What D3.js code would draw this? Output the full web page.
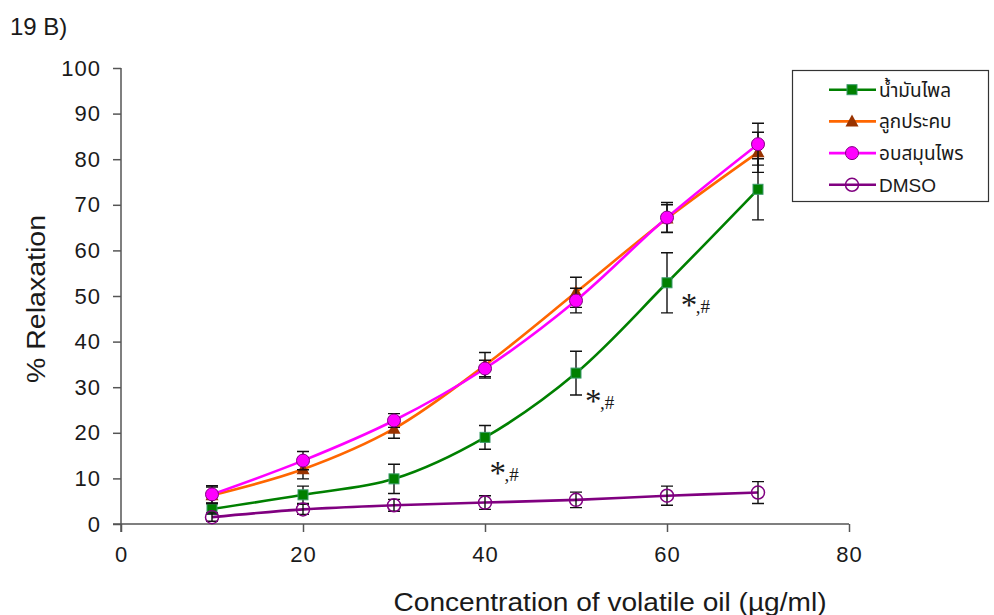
<!DOCTYPE html>
<html>
<head>
<meta charset="utf-8">
<script src="https://cdnjs.cloudflare.com/ajax/libs/d3/7.8.5/d3.min.js"></script>
<style>
  html, body { margin: 0; padding: 0; background: #fff; }
  svg { display: block; }
  text { font-family: "Liberation Sans", Arial, Helvetica, sans-serif; fill: #1a1a1a; }
  .thai { font-family: "Noto Sans Thai", "Noto Sans", "Liberation Sans", sans-serif; }
  .serif { font-family: "Liberation Serif", "Times New Roman", serif; }
</style>
</head>
<body>
<svg id="chart" width="994" height="615"></svg>
<script>
// ---- data ----
const concentrations = [10, 20, 30, 40, 50, 60, 70];
const xTicks = [0, 20, 40, 60, 80];
const yTicks = [0, 10, 20, 30, 40, 50, 60, 70, 80, 90, 100];

const seriesNames = ["น้ำมันไพล", "ลูกประคบ", "อบสมุนไพร", "DMSO"];
const plaiMean  = [3.3, 6.4, 9.9, 19.0, 33.1, 52.9, 73.4];
const plaiErr   = [1.2, 1.9, 3.2, 2.6, 4.8, 6.6, 6.7];
const lukMean   = [6.3, 12.0, 20.9, 34.8, 50.8, 67.0, 81.5];
const lukErr    = [1.8, 2.1, 2.1, 2.8, 3.3, 3.0, 4.4];
const obMean    = [6.5, 13.9, 22.7, 34.1, 49.0, 67.2, 83.3];
const obErr     = [1.9, 2.0, 1.5, 1.8, 2.7, 3.3, 4.6];
const dmsoMean  = [1.5, 3.2, 4.1, 4.7, 5.3, 6.2, 6.9];
const dmsoErr   = [0.9, 1.1, 1.3, 1.5, 1.7, 2.1, 2.4];

// significance annotations (data units, anchored near the น้ำมันไพล points)
const annotX = [40.5, 51.0, 61.5];
const annotY = [9.4, 25.3, 46.3];

// ---- styles ----
const styles = [
  {line: "#008000", marker: "square",   fill: "#008000", stroke: "#3a9a6a"},
  {line: "#FF6600", marker: "triangle", fill: "#993300", stroke: "none"},
  {line: "#FF00FF", marker: "circle",   fill: "#FF00FF", stroke: "#800080"},
  {line: "#800080", marker: "open",     fill: "none",    stroke: "#800080"}
];
const means = [plaiMean, lukMean, obMean, dmsoMean];
const errs = [plaiErr, lukErr, obErr, dmsoErr];

const svg = d3.select("#chart");
const x = d3.scaleLinear().domain([0, 80]).range([121, 849]);
const y = d3.scaleLinear().domain([0, 100]).range([524, 68]);

// title
svg.append("text").attr("x", 10).attr("y", 35).attr("font-size", 24).attr("fill", "#333").text("19 B)");

// axes
const axisColor = "#555";
const yAxis = svg.append("g").attr("transform", `translate(${x(0)},0)`)
  .call(d3.axisLeft(y).tickValues(yTicks).tickSize(8).tickSizeOuter(0).tickPadding(12));
yAxis.select(".domain").attr("stroke", axisColor).attr("stroke-width", 1.5)
  .attr("d", `M0,${y(100)}V${y(0) + 8}`);
yAxis.selectAll(".tick line").attr("stroke", axisColor).attr("stroke-width", 1.5);
yAxis.selectAll(".tick text").attr("font-size", 22).attr("fill", "#1a1a1a")
  .attr("font-family", "Liberation Sans, Arial, sans-serif").attr("letter-spacing", 1);

const xAxis = svg.append("g").attr("transform", `translate(0,${y(0)})`)
  .call(d3.axisBottom(x).tickValues(xTicks).tickSize(8).tickSizeOuter(0).tickPadding(14));
xAxis.select(".domain").attr("stroke", axisColor).attr("stroke-width", 1.5)
  .attr("d", `M${x(0) - 8},0H${x(80)}`);
xAxis.selectAll(".tick line").attr("stroke", axisColor).attr("stroke-width", 1.5);
xAxis.selectAll(".tick text").attr("font-size", 22).attr("fill", "#1a1a1a")
  .attr("font-family", "Liberation Sans, Arial, sans-serif").attr("letter-spacing", 1);

// axis titles
svg.append("text").attr("x", 610).attr("y", 611).attr("text-anchor", "middle")
  .attr("font-size", 25).attr("fill", "#333").attr("textLength", 433).attr("lengthAdjust", "spacingAndGlyphs")
  .text("Concentration of volatile oil (µg/ml)");
svg.append("text").attr("transform", `translate(45,${(215 + 383) / 2}) rotate(-90)`)
  .attr("text-anchor", "middle").attr("font-size", 25).attr("fill", "#333")
  .attr("textLength", 168).attr("lengthAdjust", "spacingAndGlyphs")
  .text("% Relaxation");

// marker drawing
function drawMarker(g, type, cx, cy, st) {
  if (type === "square") {
    g.append("rect").attr("x", cx - 5).attr("y", cy - 5).attr("width", 10).attr("height", 10)
      .attr("fill", st.fill).attr("stroke", st.stroke).attr("stroke-width", 1);
  } else if (type === "triangle") {
    g.append("path").attr("d", `M${cx},${cy - 7}L${cx + 6.5},${cy + 5}L${cx - 6.5},${cy + 5}Z`)
      .attr("fill", st.fill);
  } else if (type === "circle") {
    g.append("circle").attr("cx", cx).attr("cy", cy).attr("r", 6.5)
      .attr("fill", st.fill).attr("stroke", st.stroke).attr("stroke-width", 1);
  } else {
    g.append("circle").attr("cx", cx).attr("cy", cy).attr("r", 6.5)
      .attr("fill", "none").attr("stroke", st.stroke).attr("stroke-width", 1.5);
  }
}

const lineGen = d3.line().curve(d3.curveCatmullRom.alpha(0.5))
  .x(d => x(d[0])).y(d => y(d[1]));

means.forEach((m, si) => {
  const st = styles[si];
  const g = svg.append("g");
  const pts = concentrations.map((c, i) => [c, m[i], errs[si][i]]);
  g.append("path").attr("d", lineGen(pts)).attr("fill", "none")
    .attr("stroke", st.line).attr("stroke-width", 2.6);
  pts.forEach(p => {
    const cx = x(p[0]), y1 = y(p[1] + p[2]), y2 = y(p[1] - p[2]);
    g.append("path").attr("d", `M${cx},${y1}V${y2}M${cx - 6},${y1}H${cx + 6}M${cx - 6},${y2}H${cx + 6}`)
      .attr("stroke", "#111").attr("stroke-width", 1.4).attr("fill", "none");
  });
  pts.forEach(p => drawMarker(g, st.marker, x(p[0]), y(p[1]), st));
});

// annotations
annotX.forEach((ax, i) => {
  svg.append("text").attr("class", "serif").attr("x", x(ax)).attr("y", y(annotY[i]) + 3)
    .attr("font-size", 33).text("*");
  svg.append("text").attr("class", "serif").attr("x", x(ax) + 15).attr("y", y(annotY[i]))
    .attr("font-size", 19).text(",#");
});

// legend
const lg = svg.append("g");
lg.append("rect").attr("x", 792.5).attr("y", 70.5).attr("width", 196).attr("height", 131)
  .attr("fill", "#fff").attr("stroke", "#333").attr("stroke-width", 1.2);
seriesNames.forEach((name, i) => {
  const st = styles[i];
  const ry = 89.7 + i * 31.7;
  lg.append("line").attr("x1", 829).attr("x2", 876).attr("y1", ry).attr("y2", ry)
    .attr("stroke", st.line).attr("stroke-width", 2.6);
  drawMarker(lg, st.marker, 852, ry, st);
  lg.append("text").attr("class", i < 3 ? "thai" : "").attr("x", 879).attr("y", ry + 7)
    .attr("font-size", 19).text(name);
});
</script>
</body>
</html>
